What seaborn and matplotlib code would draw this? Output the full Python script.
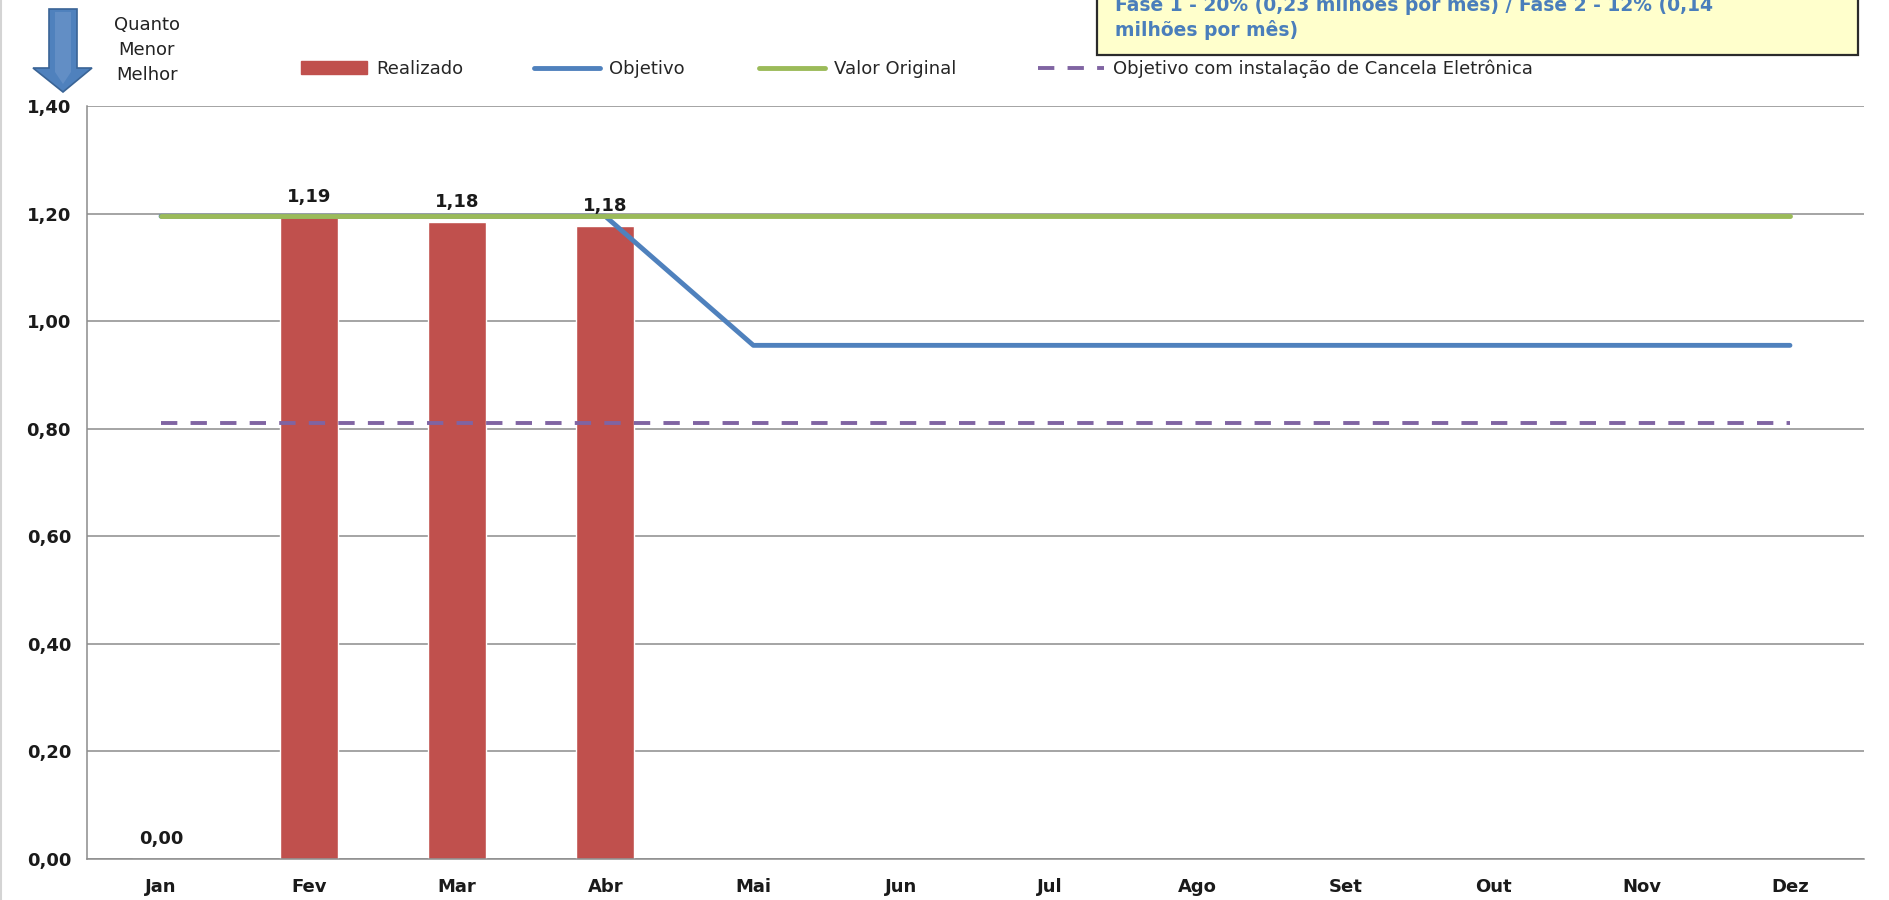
import numpy as np
import pandas as pd
import matplotlib
matplotlib.use("Agg")
import matplotlib.pyplot as plt
from matplotlib.patches import Rectangle, Polygon, Patch
from matplotlib.lines import Line2D
from matplotlib.ticker import FuncFormatter
import seaborn as sns

sns.set_style("white")
plt.rcParams.update({'font.family': ['DejaVu Sans'], 'font.size': 13})

# data
months = ["Jan", "Fev", "Mar", "Abr", "Mai", "Jun", "Jul", "Ago", "Set", "Out", "Nov", "Dez"]
realizado = [0.00, 1.194, 1.184, 1.176, np.nan, np.nan, np.nan, np.nan, np.nan, np.nan, np.nan, np.nan]
realizado_labels = ["0,00", "1,19", "1,18", "1,18"]
objetivo = [1.195, 1.195, 1.195, 1.195, 0.955, 0.955, 0.955, 0.955, 0.955, 0.955, 0.955, 0.955]
valor_original = [1.195, 1.195, 1.195, 1.195, 1.195, 1.195, 1.195, 1.195, 1.195, 1.195, 1.195, 1.195]
objetivo_cancela = [0.81, 0.81, 0.81, 0.81, 0.81, 0.81, 0.81, 0.81, 0.81, 0.81, 0.81, 0.81]
yticks = [0.0, 0.2, 0.4, 0.6, 0.8, 1.0, 1.2, 1.4]
series_names = ["Realizado", "Objetivo", "Valor Original", "Objetivo com instalação de Cancela Eletrônica"]
note_lines = ["Fase 1 - 20% (0,23 milhões por mês) / Fase 2 - 12% (0,14", "milhões por mês)"]
arrow_text = ["Quanto", "Menor", "Melhor"]

RED = "#C0504D"
BLUE = "#4F81BD"
GREEN = "#9BBB59"
PURPLE = "#8064A2"
GRID = "#8C8C8C"

W, H = 1889, 900
fig = plt.figure(figsize=(W / 100, H / 100), dpi=100)
ax = fig.add_axes([87 / W, 1 - 859 / H, (1864 - 87) / W, (859 - 106) / H])

df = pd.DataFrame({"mes": months, "pos": np.arange(len(months)), "realizado": realizado,
                   "objetivo": objetivo, "original": valor_original, "cancela": objetivo_cancela})

sns.barplot(data=df, x="mes", y="realizado", order=months, color=RED, saturation=1,
            width=0.39, ax=ax, zorder=2)
sns.lineplot(data=df, x="pos", y="objetivo", color=BLUE, lw=3.5, ax=ax, zorder=3)
sns.lineplot(data=df, x="pos", y="original", color=GREEN, lw=3.5, ax=ax, zorder=4)
sns.lineplot(data=df, x="pos", y="cancela", color=PURPLE, lw=2.8, ax=ax, zorder=4)
ax.lines[-1].set_dashes([4.2, 3.4])

for i, lab in enumerate(realizado_labels):
    ax.annotate(lab, (i, realizado[i]), xytext=(0, 8), textcoords="offset points",
                ha="center", va="bottom", fontweight="bold", fontsize=13, color="#1a1a1a")

ax.set_xlim(-0.5, len(months) - 0.5)
ax.set_ylim(0, 1.4)
ax.set_yticks(yticks)
ax.yaxis.set_major_formatter(FuncFormatter(lambda v, p: f"{v:.2f}".replace(".", ",")))
ax.set_xticks(np.arange(len(months)))
ax.set_xticklabels(months)
ax.set_xticks(np.arange(len(months) + 1) - 0.5, minor=True)
ax.tick_params(axis="x", which="major", length=0, pad=14, labelsize=13, labelcolor="#1a1a1a")
ax.tick_params(axis="x", which="minor", length=6, width=1.1, color=GRID, direction="out")
ax.tick_params(axis="y", length=6.5, width=1.1, color=GRID, direction="out", pad=5,
               labelsize=13, labelcolor="#1a1a1a")
for t in ax.get_xticklabels() + ax.get_yticklabels():
    t.set_fontweight("bold")
ax.set_xlabel("")
ax.set_ylabel("")
ax.grid(axis="y", color=GRID, lw=1.1, zorder=0)
ax.set_axisbelow(True)
for s in ["top", "right"]:
    ax.spines[s].set_visible(False)
for s in ["left", "bottom"]:
    ax.spines[s].set_color(GRID)
    ax.spines[s].set_linewidth(1.1)

# legend, one entry at a time so each sits where the original has it
handles = [Patch(facecolor=RED, edgecolor=RED),
           Line2D([], [], color=BLUE, lw=3.5),
           Line2D([], [], color=GREEN, lw=3.5),
           Line2D([], [], color=PURPLE, lw=2.8, dashes=[4.2, 3.4])]
legend_x = [301, 534, 759, 1038]
for h, name, x0 in zip(handles, series_names, legend_x):
    fig.legend([h], [name], loc="center left", bbox_to_anchor=(x0 / W, 1 - 69 / H),
               frameon=False, fontsize=13, borderpad=0, borderaxespad=0,
               handlelength=3.65, handletextpad=0.5)

# thin frame line on the left edge of the image
fig.add_artist(Line2D([0.6 / W, 0.6 / W], [0, 1], transform=fig.transFigure, color="#D4D4D4", lw=1.5))

# arrow "quanto menor melhor"
arrow_px = [(49, 9), (77, 9), (77, 68), (92, 68), (63, 92), (33, 68), (49, 68)]
fig.patches.append(Polygon([(x / W, 1 - y / H) for x, y in arrow_px], closed=True,
                           transform=fig.transFigure, facecolor=BLUE, edgecolor="#3A6496", lw=1.2))
inner_px = [(55, 12), (71, 12), (71, 72), (63, 84), (55, 72)]
fig.patches.append(Polygon([(x / W, 1 - y / H) for x, y in inner_px], closed=True,
                           transform=fig.transFigure, facecolor="#6F97CC", edgecolor="none", alpha=0.6))
for k, t in enumerate(arrow_text):
    fig.text(147 / W, 1 - (25 + 25 * k) / H, t, ha="center", va="center", fontsize=13, color="#222222")

# note box, top right
fig.patches.append(Rectangle((1097 / W, 1 - 55 / H), (1858 - 1097) / W, 0.1, transform=fig.transFigure,
                             facecolor="#FFFFCC", edgecolor="#2b2b2b", lw=1.6))
for k, t in enumerate(note_lines):
    fig.text(1115 / W, 1 - (5 + 25 * k) / H, t, ha="left", va="center", fontsize=13.5,
             fontweight="bold", color="#4A7EBB")

fig.savefig("out.png", dpi=100)
